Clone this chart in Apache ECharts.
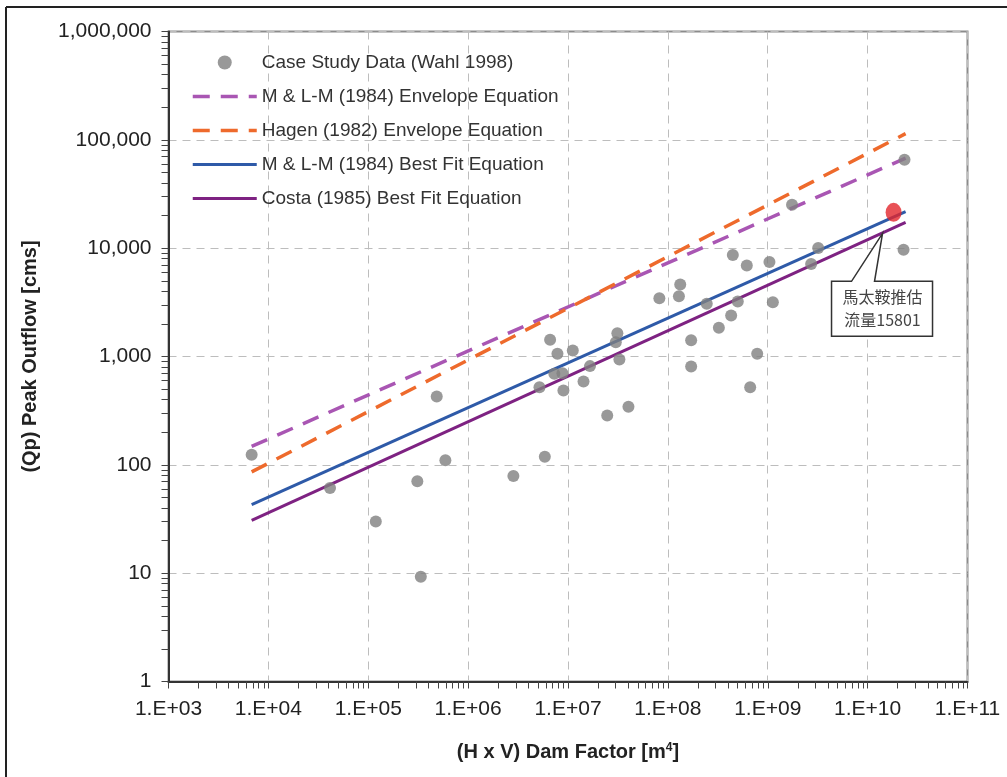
<!DOCTYPE html>
<html>
<head>
<meta charset="utf-8">
<script src="https://cdn.jsdelivr.net/npm/echarts@6/dist/echarts.min.js"></script>
<style>html,body{margin:0;padding:0;background:#fff}#c{width:1007px;height:777px}</style>
</head>
<body>
<div id="c"></div>
<script>
// ---- data ----
const caseX = [6800, 41400, 119000, 310000, 336000, 485000, 592000, 2.84e6, 5.18e6, 5.86e6,
  6.62e6, 7.84e6, 7.3e6, 8.8e6, 9.0e6, 1.117e7, 1.43e7, 1.66e7, 2.47e7, 3.12e7,
  3.01e7, 3.27e7, 4.03e7, 8.22e7, 1.29e8, 1.33e8, 1.71e8, 1.71e8, 2.45e8, 3.24e8,
  4.3e8, 4.47e8, 5.01e8, 6.17e8, 6.67e8, 7.84e8, 1.04e9, 1.125e9, 1.75e9, 2.72e9,
  3.2e9, 2.29e10, 2.34e10];
const caseY = [124, 61, 30, 70.5, 9.25, 428, 110, 79, 521, 119,
  1425, 1059, 692, 702, 486, 1136, 589, 815, 286, 1640,
  1355, 938, 344, 3444, 3600, 4614, 1413, 809, 3061, 1840,
  2388, 8650, 3213, 6905, 521, 1059, 7460, 3165, 25200, 7150,
  10040, 9680, 65500];
const lineX = [6800, 2.4e10];
const envMLM = [148, 67800];
const envHagen = [86, 114000];
const fitMLM = [43, 21700];
const fitCosta = [30.7, 17300];
const matai = [1.82e10, 21400];
const noteAnchor = [1.41e10, 13700];
const noteLines = ['馬太鞍推估', '流量15801'];
const seriesNames = ['Case Study Data (Wahl 1998)', 'M & L-M (1984) Envelope Equation',
  'Hagen (1982) Envelope Equation', 'M & L-M (1984) Best Fit Equation', 'Costa (1985) Best Fit Equation'];
const xDecades = [1e3, 1e4, 1e5, 1e6, 1e7, 1e8, 1e9, 1e10, 1e11];
const yDecades = [1, 10, 100, 1000, 10000, 100000, 1000000];
const xLabel = '(H x V) Dam Factor [m{sup|4}]';
const yLabel = '(Qp) Peak Outflow [cms]';

// tick positions (log exponents) for 1..9 x 10^k
function tickExps(decades) {
  const out = [];
  for (let i = 0; i < decades.length; i++) {
    const d = decades[i];
    if (i === decades.length - 1) { out.push(Math.log10(d)); break; }
    for (let m = 1; m <= 9; m++) out.push(Math.log10(d * m));
  }
  return out;
}

const pair = (xs, ys) => xs.map((x, i) => [x, ys[i]]);
const font = 'Liberation Sans, Arial, sans-serif';
const chart = echarts.init(document.getElementById('c'));

const DASH = [17, 11];
const styles = [null,
  { color: '#a956b3', width: 3.5, type: DASH },
  { color: '#ee6a2c', width: 3.5, type: DASH },
  { color: '#2e5aa8', width: 3, type: 'solid' },
  { color: '#7e2282', width: 3, type: 'solid' }];

const lineSeries = (i, ys) => ({
  name: seriesNames[i], type: 'line', data: pair(lineX, ys), symbol: 'none', silent: true,
  lineStyle: Object.assign({ cap: 'butt' }, styles[i]),
  itemStyle: { color: styles[i].color }, z: 3
});

const legendData = seriesNames.map((n, i) => i === 0 ? { name: n } : {
  name: n, itemStyle: { opacity: 0 },
  lineStyle: { width: styles[i].width, type: styles[i].type, color: styles[i].color }
});

chart.setOption({
  animation: false,
  backgroundColor: '#fff',
  grid: { left: 168.5, right: 39.5, top: 31.5, bottom: 95.5, show: true, borderColor: '#8c8c8c', borderWidth: 2, backgroundColor: 'transparent' },
  legend: {
    orient: 'vertical', left: 186, top: 48, itemWidth: 64, itemHeight: 14, itemGap: 15,
    textStyle: { fontFamily: font, fontSize: 19, color: '#333' },
    data: legendData, selectedMode: false
  },
  xAxis: [{
    type: 'log', logBase: 10, min: 1e3, max: 1e11, splitNumber: 8,
    axisLine: { lineStyle: { color: '#333', width: 2 } },
    axisTick: { show: false },
    axisLabel: { fontFamily: font, fontSize: 21, color: '#222', margin: 17,
      formatter: v => '1.E+' + String(Math.round(Math.log10(v))).padStart(2, '0') },
    splitLine: { show: true, lineStyle: { color: '#bdbdbd', type: [8, 6], width: 1 } },
    name: xLabel, nameLocation: 'middle', nameGap: 60,
    nameTextStyle: { fontFamily: font, fontSize: 20, fontWeight: 'bold', color: '#222',
      rich: { sup: { fontFamily: font, fontSize: 12, fontWeight: 'bold', color: '#222', verticalAlign: 'top', padding: [0, 0, 10, 0] } } }
  }, {
    type: 'value', min: 3, max: 11, position: 'bottom', gridIndex: 0,
    axisLine: { show: false }, axisLabel: { show: false }, splitLine: { show: false },
    axisTick: { show: true, length: 7, customValues: tickExps(xDecades), lineStyle: { color: '#444', width: 1 } }
  }],
  yAxis: [{
    type: 'log', logBase: 10, min: 1, max: 1e6, splitNumber: 6,
    axisLine: { show: true, lineStyle: { color: '#333', width: 2 } },
    axisTick: { show: false },
    axisLabel: { fontFamily: font, fontSize: 21, color: '#222', margin: 17,
      formatter: v => Math.round(v).toLocaleString('en-US') },
    splitLine: { show: true, lineStyle: { color: '#bdbdbd', type: [8, 6], width: 1 } },
    name: yLabel, nameLocation: 'middle', nameGap: 128, nameRotate: 90,
    nameTextStyle: { fontFamily: font, fontSize: 20, fontWeight: 'bold', color: '#222' }
  }, {
    type: 'value', min: 0, max: 6, position: 'left', gridIndex: 0,
    axisLine: { show: false }, axisLabel: { show: false }, splitLine: { show: false },
    axisTick: { show: true, length: 7, customValues: tickExps(yDecades), lineStyle: { color: '#444', width: 1 } }
  }],
  series: [
    { name: seriesNames[0], type: 'scatter', data: pair(caseX, caseY), symbol: 'circle', symbolSize: 12,
      itemStyle: { color: '#7f7f7f' }, z: 4 },
    lineSeries(1, envMLM),
    lineSeries(2, envHagen),
    lineSeries(3, fitMLM),
    lineSeries(4, fitCosta),
    { name: 'matai', type: 'scatter', data: [matai], symbol: 'circle', symbolSize: [16, 19],
      itemStyle: { color: '#e2262c' }, z: 6 }
  ]
});

// annotation callout anchored to a data point, plus the outer frame
const tip = chart.convertToPixel({ gridIndex: 0 }, noteAnchor);
const tx = tip[0], ty = tip[1];
chart.setOption({
  graphic: [
    { type: 'polygon', z: 10, shape: { points: [
        [tx, ty], [tx - 8, ty + 48], [tx + 50, ty + 48], [tx + 50, ty + 103],
        [tx - 51, ty + 103], [tx - 51, ty + 48], [tx - 31, ty + 48]] },
      style: { fill: '#fff', stroke: '#333', lineWidth: 1.5 } },
    { type: 'text', z: 11, x: tx, y: ty + 64, style: { text: noteLines[0], fontFamily: 'Noto Sans CJK TC', fontSize: 16, fill: '#444', align: 'center', verticalAlign: 'middle' } },
    { type: 'text', z: 11, x: tx, y: ty + 87, style: { text: noteLines[1], fontFamily: 'Noto Sans CJK TC', fontSize: 16, fill: '#444', align: 'center', verticalAlign: 'middle' } },
    { type: 'line', z: 10, shape: { x1: 6, y1: 7, x2: 1007, y2: 7 }, style: { stroke: '#222', lineWidth: 2 } },
    { type: 'line', z: 10, shape: { x1: 6, y1: 7, x2: 6, y2: 777 }, style: { stroke: '#222', lineWidth: 2 } }
  ]
});
</script>
</body>
</html>
